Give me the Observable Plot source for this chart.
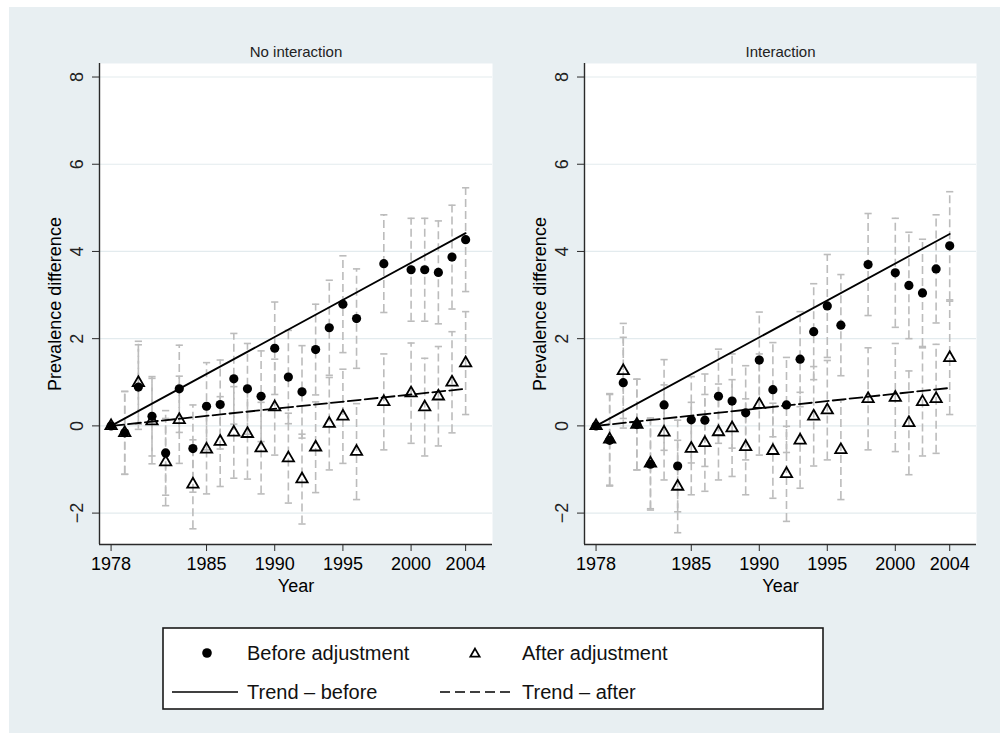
<!DOCTYPE html>
<html><head><meta charset="utf-8">
<script src="https://cdn.jsdelivr.net/npm/d3@7"></script>
<script src="https://cdn.jsdelivr.net/npm/@observablehq/plot@0.6"></script>
<style>
body{margin:0;background:#fff;}
#wrap{position:relative;width:1000px;height:733px;background:#fff;overflow:hidden;font-family:"Liberation Sans",Arial,sans-serif;}
#bg{position:absolute;left:9px;top:7px;right:0;bottom:0;background:#e8eff2;}
.panel{position:absolute;top:0;}
#legend{position:absolute;left:163px;top:628px;}
</style></head>
<body><div id="wrap"><div id="bg"></div></div>
<script>
// ---- data ----
const years = [1978,1979,1980,1981,1982,1983,1984,1985,1986,1987,1988,1989,1990,1991,1992,1993,1994,1995,1996,1998,2000,2001,2002,2003,2004];
const xTicks = [1978,1985,1990,1995,2000,2004];
const yTicks = [-2,0,2,4,6,8];
const yTickLabels = ["\u22122","0","2","4","6","8"];
const panelTitles = ["No interaction","Interaction"];

const noIntBefore   = [0,-0.16,0.89,0.22,-0.62,0.85,-0.52,0.45,0.49,1.08,0.85,0.68,1.78,1.12,0.78,1.75,2.25,2.79,2.46,3.72,3.58,3.58,3.52,3.87,4.27];
const noIntAfter    = [0,-0.16,0.99,0.11,-0.83,0.14,-1.34,-0.54,-0.36,-0.15,-0.18,-0.51,0.43,-0.74,-1.22,-0.49,0.05,0.22,-0.59,0.55,0.75,0.43,0.68,1.00,1.44];
const noIntBeforeHw = [0,0.95,0.97,0.91,0.97,1.0,1.0,1.0,1.02,1.04,1.04,1.04,1.06,1.07,1.06,1.04,1.09,1.11,1.14,1.12,1.18,1.18,1.18,1.19,1.19];
const noIntAfterHw  = [0,0.95,0.95,0.98,1.0,1.0,1.02,1.02,1.03,1.05,1.04,1.05,1.1,1.03,1.03,1.04,1.06,1.08,1.1,1.1,1.15,1.12,1.14,1.16,1.18];

const intBefore   = [0,-0.33,0.99,0.03,-0.88,0.48,-0.92,0.14,0.13,0.68,0.57,0.30,1.51,0.83,0.48,1.53,2.16,2.75,2.31,3.70,3.51,3.22,3.05,3.60,4.13];
const intAfter    = [0,-0.31,1.26,0.03,-0.86,-0.15,-1.39,-0.52,-0.39,-0.14,-0.05,-0.48,0.49,-0.57,-1.10,-0.33,0.22,0.36,-0.55,0.62,0.65,0.07,0.55,0.62,1.56];
const intBeforeHw = [0,1.05,1.04,1.04,1.05,1.04,1.05,0.99,1.06,1.08,1.08,1.08,1.1,1.08,1.09,1.09,1.1,1.18,1.16,1.17,1.25,1.22,1.23,1.24,1.24];
const intAfterHw  = [0,1.05,1.09,1.04,1.04,1.09,1.06,1.06,1.11,1.1,1.11,1.1,1.16,1.09,1.09,1.1,1.14,1.14,1.14,1.17,1.24,1.19,1.24,1.25,1.3];

const trendYears = [1978,2004];
const noIntTrendBefore = [0,4.42];
const noIntTrendAfter  = [0,0.85];
const intTrendBefore   = [0,4.40];
const intTrendAfter    = [0,0.87];

const legendLabels = ["Before adjustment","After adjustment","Trend \u2013 before","Trend \u2013 after"];

// ---- drawing ----
const FONT = "'Liberation Sans', Arial, Helvetica, sans-serif";
const GRAY = "#bcbcbc";
const AXIS = "#2a2a2a";
const xDomain = [1977.15, 2005.97];
const yDomain = [-2.72, 8.31];
const capSymbol = {draw(ctx, size){ const r = Math.sqrt(size/Math.PI); ctx.moveTo(-r,0); ctx.lineTo(r,0); }};

function rows(vals, hw){ return years.map((year,i)=>({year, v: vals[i], lo: vals[i]-hw[i], hi: vals[i]+hw[i], hw: hw[i]})); }
function trend(vals){ return trendYears.map((year,i)=>({year, v: vals[i]})); }
const yTickRows = yTicks.map((v,i)=>({v, label: yTickLabels[i]}));

function panel(title, before, after, bHw, aHw, tB, tA, marginLeft){
  const b = rows(before,bHw), a = rows(after,aHw);
  const bars = b.concat(a).filter(d=>d.hw>0);
  return Plot.plot({
    width: 500, height: 600,
    marginLeft, marginRight: 8, marginTop: 63, marginBottom: 56,
    style: {fontFamily: FONT, background: "transparent", overflow: "visible"},
    x: {type: "linear", domain: xDomain},
    y: {domain: yDomain},
    marks: [
      Plot.frame({fill: "white", stroke: null}),
      Plot.gridY(yTicks, {stroke: "#e3ebee", strokeOpacity: 1, strokeWidth: 1.2}),
      Plot.ruleX(bars, {x: "year", y1: "lo", y2: "hi", stroke: GRAY, strokeWidth: 1.6, strokeDasharray: "8,4"}),
      Plot.dot(bars, {x: "year", y: "lo", symbol: capSymbol, r: 3.6, stroke: GRAY, strokeWidth: 1.6, fill: "none"}),
      Plot.dot(bars, {x: "year", y: "hi", symbol: capSymbol, r: 3.6, stroke: GRAY, strokeWidth: 1.6, fill: "none"}),
      Plot.ruleX([xDomain[0]], {stroke: AXIS, strokeWidth: 1.4}),
      Plot.ruleY([yDomain[0]], {stroke: AXIS, strokeWidth: 1.4}),
      Plot.axisY({ticks: yTicks, tickSize: 7, tickFormat: () => "", stroke: AXIS,
        label: "Prevalence difference", labelAnchor: "center", labelArrow: "none", labelOffset: 51, fontSize: 18}),
      Plot.text(yTickRows, {y: "v", text: "label", frameAnchor: "left", dx: -22.5, rotate: -90,
        textAnchor: "middle", lineAnchor: "middle", fontSize: 18, fill: "#222"}),
      Plot.axisX({ticks: xTicks, tickFormat: d => String(d), tickSize: 7, tickPadding: 6, fontSize: 18, stroke: AXIS,
        label: "Year", labelAnchor: "center", labelArrow: "none", labelOffset: 47}),
      Plot.line(trend(tB), {x: "year", y: "v", stroke: "black", strokeWidth: 1.8}),
      Plot.line(trend(tA), {x: "year", y: "v", stroke: "black", strokeWidth: 1.8, strokeDasharray: "13,4"}),
      Plot.dot(b, {x: "year", y: "v", r: 4.6, fill: "black", stroke: null}),
      Plot.dot(a, {x: "year", y: "v", symbol: "triangle", r: 4.2, fill: "none", stroke: "black", strokeWidth: 1.8}),
      Plot.text([title], {frameAnchor: "top", dy: -11, fontSize: 15, lineAnchor: "middle", fill: "#222"})
    ]
  });
}

const wrap = document.getElementById("wrap");
const p1 = panel(panelTitles[0], noIntBefore, noIntAfter, noIntBeforeHw, noIntAfterHw, noIntTrendBefore, noIntTrendAfter, 99);
p1.classList.add("panel"); p1.style.left = "0px";
wrap.appendChild(p1);
const p2 = panel(panelTitles[1], intBefore, intAfter, intBeforeHw, intAfterHw, intTrendBefore, intTrendAfter, 100);
p2.classList.add("panel"); p2.style.left = "484px";
wrap.appendChild(p2);

// legend
const lg = d3.create("svg").attr("id","legend").attr("width",663).attr("height",84)
  .style("position","absolute").style("left","162px").style("top","627px");
lg.append("rect").attr("x",1).attr("y",1).attr("width",660).attr("height",81).attr("fill","white").attr("stroke","#1a1a1a").attr("stroke-width",1.6);
lg.append("circle").attr("cx",45).attr("cy",26).attr("r",4.8).attr("fill","black");
lg.append("path").attr("d",d3.symbol(d3.symbolTriangle, Math.PI*3.5*3.5)()).attr("transform","translate(313,27)").attr("fill","none").attr("stroke","black").attr("stroke-width",1.7);
lg.append("line").attr("x1",10).attr("x2",76).attr("y1",65).attr("y2",65).attr("stroke","black").attr("stroke-width",1.6);
lg.append("line").attr("x1",278).attr("x2",352).attr("y1",65).attr("y2",65).attr("stroke","black").attr("stroke-width",1.6).attr("stroke-dasharray","10,5");
const tx = [[85,33],[360,33],[85,72],[360,72]];
legendLabels.forEach((t,i)=>lg.append("text").attr("x",tx[i][0]).attr("y",tx[i][1]).attr("font-family",FONT).attr("font-size",20).attr("fill","#111").text(t));
wrap.appendChild(lg.node());
</script>
</body></html>
